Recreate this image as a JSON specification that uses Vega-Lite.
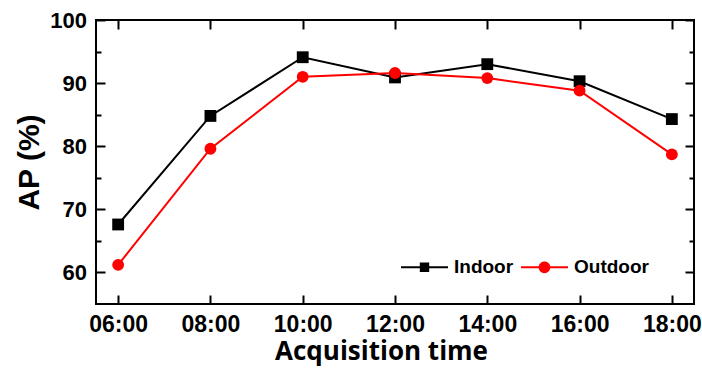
{
  "$schema": "https://vega.github.io/schema/vega-lite/v6.json",
  "width": 598,
  "height": 284,
  "autosize": "none",
  "padding": {"left": 96, "top": 20, "right": 8, "bottom": 70},
  "background": "white",
  "config": {
    "view": {"stroke": "black", "strokeWidth": 2},
    "axis": {
      "domain": false,
      "grid": false,
      "tickColor": "black",
      "tickWidth": 2,
      "labelColor": "black",
      "labelFont": "Liberation Sans",
      "labelFontWeight": "bold",
      "titleColor": "black",
      "titleFontWeight": "bold"
    },
    "legend": {
      "orient": "none",
      "legendX": 305,
      "legendY": 223.5,
      "direction": "horizontal",
      "padding": 0,
      "labelOffset": 6,
      "columnPadding": 7,
      "symbolSize": 2209,
      "symbolStrokeWidth": 0,
      "labelFont": "Liberation Sans",
      "labelFontSize": 19,
      "labelFontWeight": "bold",
      "labelColor": "black",
      "labelLimit": 300
    }
  },
  "data": {
    "values": [
      {"time": "06:00", "series": "Indoor", "ap": 67.6},
      {"time": "08:00", "series": "Indoor", "ap": 84.8},
      {"time": "10:00", "series": "Indoor", "ap": 94.1},
      {"time": "12:00", "series": "Indoor", "ap": 90.9},
      {"time": "14:00", "series": "Indoor", "ap": 93.0},
      {"time": "16:00", "series": "Indoor", "ap": 90.3},
      {"time": "18:00", "series": "Indoor", "ap": 84.3},
      {"time": "06:00", "series": "Outdoor", "ap": 61.2},
      {"time": "08:00", "series": "Outdoor", "ap": 79.6},
      {"time": "10:00", "series": "Outdoor", "ap": 91.0},
      {"time": "12:00", "series": "Outdoor", "ap": 91.6},
      {"time": "14:00", "series": "Outdoor", "ap": 90.8},
      {"time": "16:00", "series": "Outdoor", "ap": 88.8},
      {"time": "18:00", "series": "Outdoor", "ap": 78.7}
    ]
  },
  "layer": [
    {
      "mark": {"type": "line", "strokeWidth": 2},
      "encoding": {
        "x": {
          "field": "time", "type": "ordinal",
          "scale": {"type": "point", "padding": 0.24},
          "axis": {
            "orient": "bottom",
            "labelAngle": 0,
            "tickSize": -9,
            "labelPadding": 18.5,
            "labelFontSize": 23,
            "title": "Acquisition time",
            "titleFont": "Open Sans",
            "titleFontSize": 26,
            "titleX": 285,
            "titleY": 55,
            "titleBaseline": "alphabetic",
            "titleAnchor": "middle",
            "titleAlign": "center"
          }
        },
        "y": {
          "field": "ap", "type": "quantitative",
          "scale": {"domain": [55, 100], "nice": false, "zero": false},
          "axis": {
            "orient": "left",
            "values": [60, 65, 70, 75, 80, 85, 90, 95, 100],
            "labelExpr": "datum.value % 10 == 0 ? datum.label : ''",
            "tickSize": {"condition": {"test": "datum.value % 10 == 0", "value": -9}, "value": -5},
            "labelPadding": 18.5,
            "labelFontSize": 22,
            "title": "AP (%)",
            "titleFont": "Liberation Sans",
            "titleFontSize": 30,
            "titleX": -57.5,
            "titleY": 142,
            "titleAngle": -90,
            "titleBaseline": "alphabetic",
            "titleAlign": "center"
          }
        },
        "color": {
          "field": "series", "type": "nominal",
          "scale": {"domain": ["Indoor", "Outdoor"], "range": ["#000000", "#ff0000"]},
          "title": null
        }
      }
    },
    {
      "transform": [{"filter": "datum.series === 'Indoor'"}],
      "mark": {"type": "point", "shape": "square", "filled": true, "opacity": 1, "size": 140},
      "encoding": {
        "x": {
          "field": "time", "type": "ordinal",
          "scale": {"type": "point", "padding": 0.24},
          "axis": {"orient": "top", "labels": false, "tickSize": -9, "title": null}
        },
        "y": {
          "field": "ap", "type": "quantitative",
          "scale": {"domain": [55, 100], "nice": false, "zero": false},
          "axis": {
            "orient": "right",
            "labels": false,
            "values": [60, 65, 70, 75, 80, 85, 90, 95, 100],
            "tickSize": {"condition": {"test": "datum.value % 10 == 0", "value": -9}, "value": -5},
            "title": null
          }
        },
        "color": {
          "field": "series", "type": "nominal",
          "scale": {"domain": ["Indoor", "Outdoor"], "range": ["#000000", "#ff0000"]},
          "title": null
        }
      }
    },
    {
      "transform": [{"filter": "datum.series === 'Outdoor'"}],
      "mark": {"type": "point", "shape": "circle", "filled": true, "opacity": 1, "size": 140},
      "encoding": {
        "x": {"field": "time", "type": "ordinal", "scale": {"type": "point", "padding": 0.24}, "axis": null},
        "y": {"field": "ap", "type": "quantitative", "scale": {"domain": [55, 100], "nice": false, "zero": false}, "axis": null},
        "color": {
          "field": "series", "type": "nominal",
          "scale": {"domain": ["Indoor", "Outdoor"], "range": ["#000000", "#ff0000"]},
          "title": null
        }
      }
    },
    {
      "mark": {"type": "point", "filled": true, "opacity": 0, "size": 140},
      "encoding": {
        "x": {"field": "time", "type": "ordinal", "scale": {"type": "point", "padding": 0.24}, "axis": null},
        "y": {"field": "ap", "type": "quantitative", "scale": {"domain": [55, 100], "nice": false, "zero": false}, "axis": null},
        "color": {
          "field": "series", "type": "nominal",
          "scale": {"domain": ["Indoor", "Outdoor"], "range": ["#000000", "#ff0000"]},
          "title": null
        },
        "shape": {
          "field": "series", "type": "nominal",
          "scale": {
            "domain": ["Indoor", "Outdoor"],
            "range": [
              "M-1,-0.043H1V0.043H-1Z M-0.2,-0.2H0.2V0.2H-0.2Z",
              "M-1,-0.043H1V0.043H-1Z M0.25,0A0.25,0.25,0,1,1,-0.25,0A0.25,0.25,0,1,1,0.25,0Z"
            ]
          },
          "title": null
        }
      }
    }
  ],
  "resolve": {"axis": {"x": "independent", "y": "independent"}}
}
